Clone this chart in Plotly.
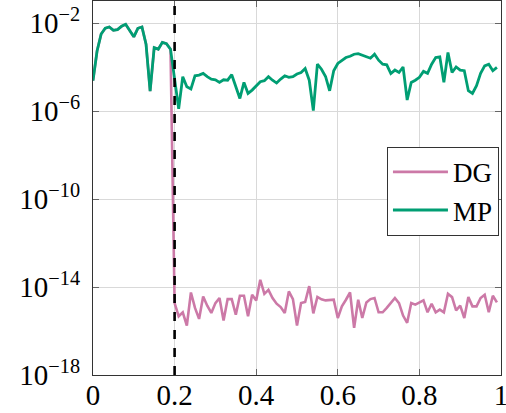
import plotly.graph_objects as go

# x positions (0.00 .. 0.99, step 0.01)
x_vals = [round(i * 0.01, 2) for i in range(100)]

# MP error, read as log10 values from the picture
mp_log10 = [
    -4.62, -3.27, -2.50, -2.24, -2.18, -2.33, -2.30, -2.15, -2.06, -2.33,
    -2.63, -2.24, -2.18, -2.96, -5.10, -3.12, -3.19, -2.88, -2.94, -3.19,
    -4.50, -5.90, -4.44, -4.90, -5.00, -4.40, -4.37, -4.29, -4.44, -4.55,
    -4.58, -4.70, -4.58, -4.60, -4.35, -4.93, -5.43, -4.70, -5.20, -5.05,
    -4.85, -4.67, -4.62, -4.44, -4.60, -4.73, -4.55, -4.40, -4.47, -4.44,
    -4.32, -4.25, -4.07, -4.60, -5.98, -3.87, -4.10, -4.43, -5.08, -4.17,
    -3.84, -3.69, -3.57, -3.51, -3.42, -3.39, -3.45, -3.52, -3.60, -3.42,
    -3.69, -3.87, -3.90, -4.30, -4.14, -4.25, -4.00, -5.50, -4.70, -4.60,
    -4.47, -4.20, -4.29, -3.87, -3.57, -3.54, -4.70, -3.34, -4.25, -4.00,
    -4.14, -4.17, -5.08, -5.20, -4.85, -4.29, -3.95, -3.87, -4.17, -4.02,
]

# DG error, read as log10 values from the picture
dg_log10 = [
    -4.62, -3.27, -2.50, -2.24, -2.18, -2.33, -2.30, -2.15, -2.06, -2.33,
    -2.63, -2.24, -2.18, -2.96, -5.10, -3.12, -3.19, -2.88, -2.94, -3.19,
    -14.73, -15.33, -15.15, -15.75, -14.25, -14.95, -15.45, -14.43, -14.85, -15.18,
    -14.73, -14.50, -15.52, -14.55, -14.55, -15.26, -14.40, -14.40, -15.33, -14.35,
    -14.61, -13.67, -14.31, -14.13, -14.50, -14.76, -14.91, -15.18, -14.20, -14.55,
    -15.75, -14.73, -14.68, -13.96, -15.20, -14.45, -14.56, -14.61, -14.61, -14.58,
    -15.41, -14.88, -14.58, -14.25, -15.86, -14.58, -15.41, -14.70, -14.55, -14.50,
    -15.15, -15.15, -14.95, -14.70, -14.50, -14.73, -15.30, -15.63, -14.73, -14.80,
    -14.70, -14.61, -15.15, -14.76, -15.15, -15.03, -15.15, -14.31, -14.46, -15.06,
    -14.85, -15.41, -14.46, -14.88, -14.88, -14.50, -14.35, -15.15, -14.40, -14.70,
]

mp_vals = [10 ** v for v in mp_log10]
dg_vals = [10 ** v for v in dg_log10]

switch_x = 0.2

x_ticks = [0, 0.2, 0.4, 0.6, 0.8, 1]
x_ticktext = ["0", "0.2", "0.4", "0.6", "0.8", "1"]
y_ticks = [1e-18, 1e-14, 1e-10, 1e-6, 1e-2]
y_ticktext = ["10<sup>−18</sup>", "10<sup>−14</sup>", "10<sup>−10</sup>",
              "10<sup>−6</sup>", "10<sup>−2</sup>"]

font_family = "Liberation Serif"
tick_font = dict(family=font_family, size=29, color="black")

fig = go.Figure()
fig.add_trace(go.Scatter(x=x_vals, y=dg_vals, mode="lines", name="DG",
                         line=dict(color="#CC79A7", width=2.6)))
fig.add_trace(go.Scatter(x=x_vals, y=mp_vals, mode="lines", name="MP",
                         line=dict(color="#009E73", width=2.8)))

fig.add_shape(type="line", xref="x", yref="paper", x0=switch_x, x1=switch_x,
              y0=0, y1=1, line=dict(color="black", width=2.6, dash="dash"))

fig.update_layout(
    width=506, height=413,
    margin=dict(l=93, r=5, t=1, b=38),
    paper_bgcolor="white", plot_bgcolor="white",
    font=dict(family=font_family, size=27, color="black"),
    showlegend=True,
    legend=dict(
        x=0.995, y=0.61, xanchor="right", yanchor="top",
        bgcolor="white", bordercolor="#333333", borderwidth=1,
        font=dict(family=font_family, size=27, color="black"),
        tracegroupgap=0, itemwidth=55,
    ),
)
fig.update_xaxes(
    range=[0, 1], tickvals=x_ticks, ticktext=x_ticktext,
    showgrid=True, gridcolor="#d9d9d9", gridwidth=1,
    showline=True, linecolor="#333333", linewidth=1.2, mirror="ticks",
    ticks="inside", ticklen=6, tickcolor="#666666",
    zeroline=False, tickfont=tick_font, automargin=False,
    ticklabeloverflow="allow", ticklabelstandoff=-6,
)
fig.update_yaxes(
    type="log", range=[-18, -1], tickvals=y_ticks, ticktext=y_ticktext,
    showgrid=True, gridcolor="#d9d9d9", gridwidth=1,
    showline=True, linecolor="#333333", linewidth=1.2, mirror="ticks",
    ticks="inside", ticklen=6, tickcolor="#666666",
    zeroline=False, tickfont=tick_font, automargin=False,
    ticklabelstandoff=6, ticklabeloverflow="allow",
)

fig.write_html("out.html", config={"displayModeBar": False},
               post_script="document.body.style.margin='0px';document.body.style.overflow='hidden';")
